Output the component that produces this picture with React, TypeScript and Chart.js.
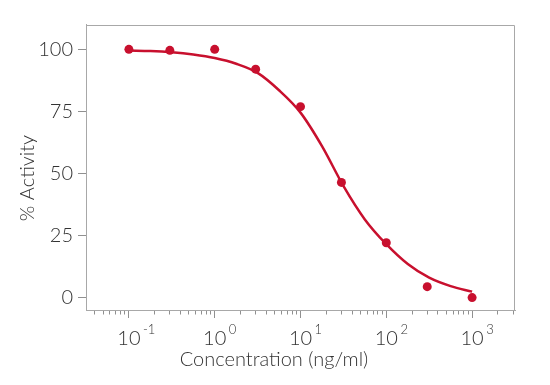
import React, { useEffect, useRef } from 'react';
import { Chart, registerables } from 'chart.js';

Chart.register(...registerables);

// Measured data points
const pointConc = [0.1, 0.3, 1, 3, 10, 30, 100, 300, 1000];
const pointActivity = [100, 99.6, 100, 92, 76.9, 46.4, 22.1, 4.4, 0];

// Fitted curve
const curveConc = [0.1, 0.178, 0.316, 0.562, 1, 1.78, 3.16, 5.62, 10, 17.8, 31.6, 56.2, 100, 178, 316, 562, 1000];
const curveActivity = [99.5, 99.3, 98.8, 97.9, 96.5, 94.2, 90.5, 83.5, 74.5, 61, 45, 31.5, 21.5, 13.5, 8, 4.6, 2.4];

// Axes
const yTickValues = [0, 25, 50, 75, 100];
const xMajorTicks = [0.1, 1, 10, 100, 1000];
const xExponents = ['-1', '0', '1', '2', '3'];
const X_MIN = Math.pow(10, -1.5);
const X_MAX = Math.pow(10, 3.5);
const Y_MIN = -5;
const Y_MAX = 110;

const RED = '#c8102e';
const FRAME = '#a8a8a8';
const TICK = '#909090';
const TEXT = '#333333';
const FAMILY = 'Lato';
const WEIGHT = 300;
const FS = 20;

function buildXTicks() {
  const out: { value: number; major: boolean }[] = [];
  for (let e = -2; e <= 3; e++) {
    for (let m = 1; m <= 9; m++) {
      const v = m * Math.pow(10, e);
      if (v >= X_MIN && v <= X_MAX) out.push({ value: v, major: m === 1 });
    }
  }
  return out;
}

const decor = {
  id: 'decor',
  beforeDatasetsDraw(chart: any) {
    const { ctx, chartArea: a } = chart;
    ctx.save();
    ctx.strokeStyle = FRAME;
    ctx.lineWidth = 1;
    ctx.beginPath();
    const top = Math.round(a.top) + 0.5;
    const right = Math.round(a.right) - 0.5;
    ctx.moveTo(a.left, top);
    ctx.lineTo(right, top);
    ctx.lineTo(right, a.bottom);
    ctx.stroke();
    ctx.restore();
  },
  afterDraw(chart: any) {
    const { ctx, chartArea: a } = chart;
    const xs = chart.scales.x;
    ctx.save();
    ctx.fillStyle = TEXT;
    ctx.font = `${WEIGHT} ${FS}px ${FAMILY}`;
    const w = ctx.measureText('10').width;
    ctx.font = `${WEIGHT} 13px ${FAMILY}`;
    ctx.textAlign = 'left';
    ctx.textBaseline = 'alphabetic';
    xMajorTicks.forEach((v, i) => {
      const px = xs.getPixelForValue(v);
      ctx.fillText(xExponents[i], px + w / 2 + 2.5, a.bottom + 23.5);
    });
    // axis titles
    ctx.font = `${WEIGHT} ${FS}px ${FAMILY}`;
    ctx.textAlign = 'center';
    ctx.fillText('Concentration (ng/ml)', 274, 366);
    ctx.translate(34, 178);
    ctx.rotate(-Math.PI / 2);
    ctx.fillText('% Activity', 0, 0);
    ctx.restore();
  },
};

export default function App() {
  const ref = useRef<HTMLCanvasElement>(null);
  useEffect(() => {
    document.body.style.margin = '0';
    if (!ref.current) return;
    const xTicks = buildXTicks();
    const font = { family: FAMILY, size: FS, weight: WEIGHT as any };
    const chart = new Chart(ref.current, {
      type: 'scatter',
      data: {
        datasets: [
          {
            type: 'scatter',
            data: pointConc.map((x, i) => ({ x, y: pointActivity[i] })),
            backgroundColor: RED,
            borderColor: RED,
            borderWidth: 0,
            pointRadius: 4.5,
            order: 1,
          } as any,
          {
            type: 'line',
            data: curveConc.map((x, i) => ({ x, y: curveActivity[i] })),
            borderColor: RED,
            borderWidth: 2.5,
            pointRadius: 0,
            fill: false,
            cubicInterpolationMode: 'monotone',
            order: 2,
          } as any,
        ],
      },
      options: {
        animation: false,
        responsive: false,
        events: [],
        layout: { padding: { top: 24.5, right: 35, left: 0, bottom: 0 } },
        plugins: { legend: { display: false }, tooltip: { enabled: false } },
        scales: {
          x: {
            type: 'logarithmic',
            position: 'bottom',
            weight: 1,
            min: X_MIN,
            max: X_MAX,
            afterBuildTicks: (s: any) => {
              s.ticks = xTicks.map((t) => ({ ...t }));
            },
            afterFit: (s: any) => {
              s.height = 75;
            },
            grid: { drawOnChartArea: false, tickLength: 4.5, color: TICK, tickColor: TICK },
            border: { display: true, color: FRAME },
            ticks: {
              autoSkip: false,
              maxRotation: 0,
              color: TEXT,
              font,
              padding: 12,
              major: { enabled: false },
              callback: (_v: any, i: number, t: any[]) => (t[i] && t[i].major ? '10' : ''),
            },
          } as any,
          xMajor: {
            type: 'logarithmic',
            position: 'bottom',
            weight: 0,
            min: X_MIN,
            max: X_MAX,
            afterBuildTicks: (s: any) => {
              s.ticks = xMajorTicks.map((v) => ({ value: v }));
            },
            afterFit: (s: any) => {
              s.height = 0;
            },
            grid: { drawOnChartArea: false, tickLength: 8, color: TICK, tickColor: TICK },
            border: { display: false },
            ticks: { display: false },
          } as any,
          y: {
            type: 'linear',
            min: Y_MIN,
            max: Y_MAX,
            afterBuildTicks: (s: any) => {
              s.ticks = yTickValues.map((v) => ({ value: v }));
            },
            afterFit: (s: any) => {
              s.width = 86;
            },
            grid: { drawOnChartArea: false, tickLength: 8, color: TICK, tickColor: TICK },
            border: { display: true, color: FRAME },
            ticks: { color: TEXT, font, padding: 5 },
          } as any,
        },
      },
      plugins: [decor],
    });
    return () => chart.destroy();
  }, []);
  return (
    <div style={{ width: 550, height: 385 }}>
      <canvas ref={ref} width={550} height={385} />
    </div>
  );
}
